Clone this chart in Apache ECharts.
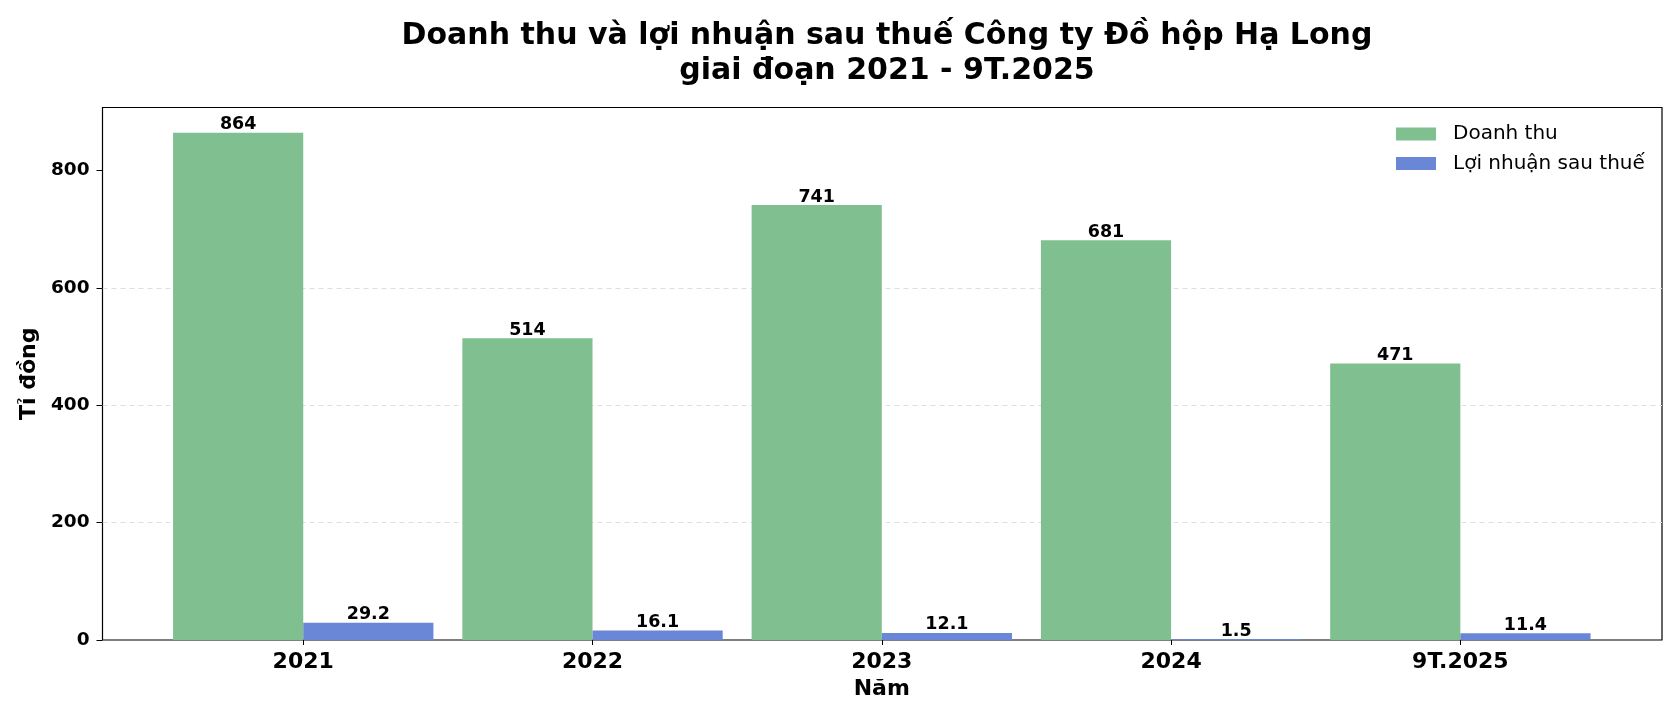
<!DOCTYPE html>
<html>
<head>
<meta charset="utf-8">
<script src="https://cdn.jsdelivr.net/npm/echarts@6/dist/echarts.min.js"></script>
<style>
html,body{margin:0;padding:0;background:#fff;}
#chart{width:1680px;height:720px;}
</style>
</head>
<body>
<div id="chart"></div>
<script>
// du lieu
var categories = ['2021', '2022', '2023', '2024', '9T.2025'];
var doanhThu = [864, 514, 741, 681, 471];
var loiNhuan = [29.2, 16.1, 12.1, 1.5, 11.4];
var yTicks = [0, 200, 400, 600, 800];

var FONT = 'DejaVu Sans';
var yMax = 907.2;

var chart = echarts.init(document.getElementById('chart'));

var labelStyle = {
	show: true,
	position: 'top',
	distance: -1,
	color: '#000',
	fontFamily: FONT,
	fontWeight: 'bold',
	fontSize: 17.5
};

var option = {
	animation: false,
	textStyle: { fontFamily: FONT },
	title: {
		text: 'Doanh thu và lợi nhuận sau thuế Công ty Đồ hộp Hạ Long\ngiai đoạn 2021 - 9T.2025',
		left: 882,
		top: 14,
		textAlign: 'center',
		textStyle: { fontFamily: FONT, fontWeight: 'bold', fontSize: 30, lineHeight: 35, color: '#000' }
	},
	legend: {
		orient: 'vertical',
		left: 1396,
		top: 124,
		padding: 0,
		itemWidth: 40,
		itemHeight: 13,
		itemGap: 9.5,
		icon: 'rect',
		textStyle: { fontFamily: FONT, fontSize: 20, lineHeight: 20, color: '#000', padding: [0, 0, 0, 12] },
		data: ['Doanh thu', 'Lợi nhuận sau thuế']
	},
	grid: [
		{ left: 102.5, right: 18, top: 107.5, bottom: 80, show: true, borderColor: '#000', borderWidth: 1.2, backgroundColor: 'transparent' },
		{ left: 158.6, right: 75, top: 107.5, bottom: 80 }
	],
	xAxis: [
		{ gridIndex: 0, type: 'value', min: 0, max: 1, show: false },
		{
			gridIndex: 1,
			type: 'category',
			data: categories,
			name: 'Năm',
			nameLocation: 'middle',
			nameGap: 38,
			nameTextStyle: { fontFamily: FONT, fontWeight: 'bold', fontSize: 22, color: '#000' },
			axisLine: { show: false },
			axisTick: { show: true, alignWithLabel: true, length: 5, lineStyle: { color: '#000', width: 1 } },
			axisLabel: { fontFamily: FONT, fontWeight: 'bold', fontSize: 22, color: '#000', margin: 11 },
			splitLine: { show: false }
		}
	],
	yAxis: [
		{
			gridIndex: 0,
			type: 'value',
			min: 0,
			max: yMax,
			interval: 200,
			name: 'Tỉ đồng',
			nameLocation: 'middle',
			nameGap: 60,
			nameTextStyle: { fontFamily: FONT, fontWeight: 'bold', fontSize: 22, color: '#000' },
			axisLine: { show: false },
			axisTick: { show: true, length: 6, customValues: yTicks, lineStyle: { color: '#000' } },
			axisLabel: {
				fontFamily: FONT, fontWeight: 'bold', fontSize: 18.5, color: '#000', margin: 13,
				customValues: yTicks
			},
			splitLine: {
				show: true,
				showMinLine: false,
				showMaxLine: false,
				lineStyle: { color: '#dedede', type: [5, 4], width: 1 }
			}
		},
		{ gridIndex: 1, type: 'value', min: 0, max: yMax, show: false }
	],
	series: [
		{
			name: 'Doanh thu',
			type: 'bar',
			xAxisIndex: 1,
			yAxisIndex: 1,
			data: doanhThu,
			barWidth: '45%',
			barGap: '0%',
			itemStyle: { color: '#80bf8f' },
			label: labelStyle
		},
		{
			name: 'Lợi nhuận sau thuế',
			type: 'bar',
			xAxisIndex: 1,
			yAxisIndex: 1,
			data: loiNhuan,
			barWidth: '45%',
			barGap: '0%',
			itemStyle: { color: '#6a86d6' },
			label: labelStyle
		}
	]
};

chart.setOption(option);
window.addEventListener('resize', function () {
	chart.resize();
});
</script>
</body>
</html>
